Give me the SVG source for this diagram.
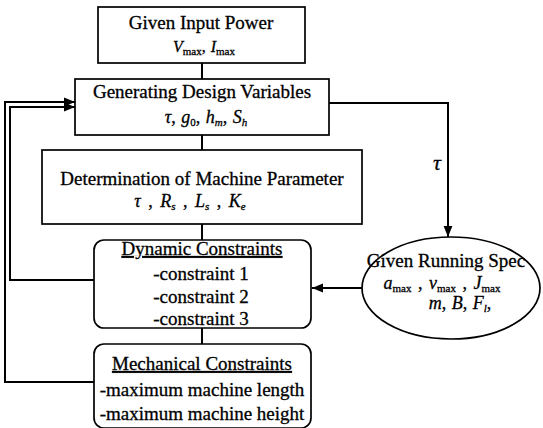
<svg xmlns="http://www.w3.org/2000/svg" width="543" height="428" viewBox="0 0 543 428">
<style>
.box{fill:#fff;stroke:#000;stroke-width:1.7}
.ln{fill:none;stroke:#000;stroke-width:2}
text{font-family:"Liberation Serif","Times New Roman",serif;fill:#000;stroke:#000;stroke-width:0.3;text-anchor:middle;font-size:19px}
.m{font-size:18px;word-spacing:1px}
.i{font-style:italic}
.s{font-size:11px}
.u{text-decoration:underline}
</style>
<defs>
<marker id="ah" viewBox="0 0 10 10" refX="10" refY="5" markerWidth="11" markerHeight="11" markerUnits="userSpaceOnUse" orient="auto">
<path d="M0,1 L10,5 L0,9 Z" fill="#000"/>
</marker>
</defs>
<g id="connectors">
<line class="ln" x1="202" y1="63" x2="202" y2="79"/>
<line class="ln" x1="202" y1="135" x2="202" y2="150"/>
<line class="ln" x1="202" y1="224" x2="202" y2="240"/>
<line class="ln" x1="202" y1="328" x2="202" y2="344"/>
<polyline class="ln" points="329,103 448,103 448,237" marker-end="url(#ah)"/>
<line class="ln" x1="362" y1="288" x2="312" y2="288" marker-end="url(#ah)"/>
<polyline class="ln" points="94,382 5,382 5,102 75,102" marker-end="url(#ah)"/>
<polyline class="ln" points="94,280 10,280 10,107 75,107" marker-end="url(#ah)"/>
<text x="437" y="170" class="i" style="font-size:22px">τ</text>
</g>
<g id="input-power">
<rect class="box" x="98" y="7" width="207" height="56"/>
<text x="201" y="29">Given Input Power</text>
<text x="204" y="52" class="m" style="font-size:16px"><tspan class="i">V</tspan><tspan class="s" dy="3">max</tspan><tspan dy="-3">, </tspan><tspan class="i">I</tspan><tspan class="s" dy="3">max</tspan></text>
</g>
<g id="design-variables">
<rect class="box" x="75" y="79" width="254" height="56"/>
<text x="202" y="98">Generating Design Variables</text>
<text x="206" y="123" class="m"><tspan class="i">τ</tspan>, <tspan class="i">g</tspan><tspan class="s" dy="3">0</tspan><tspan dy="-3">, </tspan><tspan class="i">h</tspan><tspan class="s i" dy="3">m</tspan><tspan dy="-3">, </tspan><tspan class="i">S</tspan><tspan class="s i" dy="3">h</tspan></text>
</g>
<g id="machine-parameter">
<rect class="box" x="42" y="150" width="320" height="74"/>
<text x="202" y="185">Determination of Machine Parameter</text>
<text x="190" y="207" class="m" style="word-spacing:3px"><tspan class="i">τ</tspan> , <tspan class="i">R</tspan><tspan class="s i" dy="3">s</tspan><tspan dy="-3"> , </tspan><tspan class="i">L</tspan><tspan class="s i" dy="3">s</tspan><tspan dy="-3"> , </tspan><tspan class="i">K</tspan><tspan class="s i" dy="3">e</tspan></text>
</g>
<g id="dynamic-constraints">
<rect class="box" x="94" y="240" width="217" height="88" rx="10"/>
<text x="202" y="255" class="u">Dynamic Constraints</text>
<text x="201" y="280">-constraint 1</text>
<text x="201" y="303">-constraint 2</text>
<text x="201" y="325">-constraint 3</text>
</g>
<g id="mechanical-constraints">
<rect class="box" x="94" y="344" width="217" height="84" rx="10"/>
<text x="202" y="370" class="u">Mechanical Constraints</text>
<text x="202" y="396">-maximum machine length</text>
<text x="202" y="420">-maximum machine height</text>
</g>
<g id="running-spec">
<ellipse class="box" cx="451" cy="288" rx="89" ry="51"/>
<text x="446" y="267">Given Running Spec</text>
<text x="442" y="289" class="m" style="word-spacing:2px"><tspan class="i">a</tspan><tspan class="s" dy="3">max</tspan><tspan dy="-3"> , </tspan><tspan class="i">v</tspan><tspan class="s" dy="3">max</tspan><tspan dy="-3"> , </tspan><tspan class="i">J</tspan><tspan class="s" dy="3">max</tspan></text>
<text x="460" y="309" class="m"><tspan class="i">m</tspan>, <tspan class="i">B</tspan>, <tspan class="i">F</tspan><tspan class="s i" dy="3">l</tspan><tspan dy="-3">,</tspan></text>
</g>
</svg>
